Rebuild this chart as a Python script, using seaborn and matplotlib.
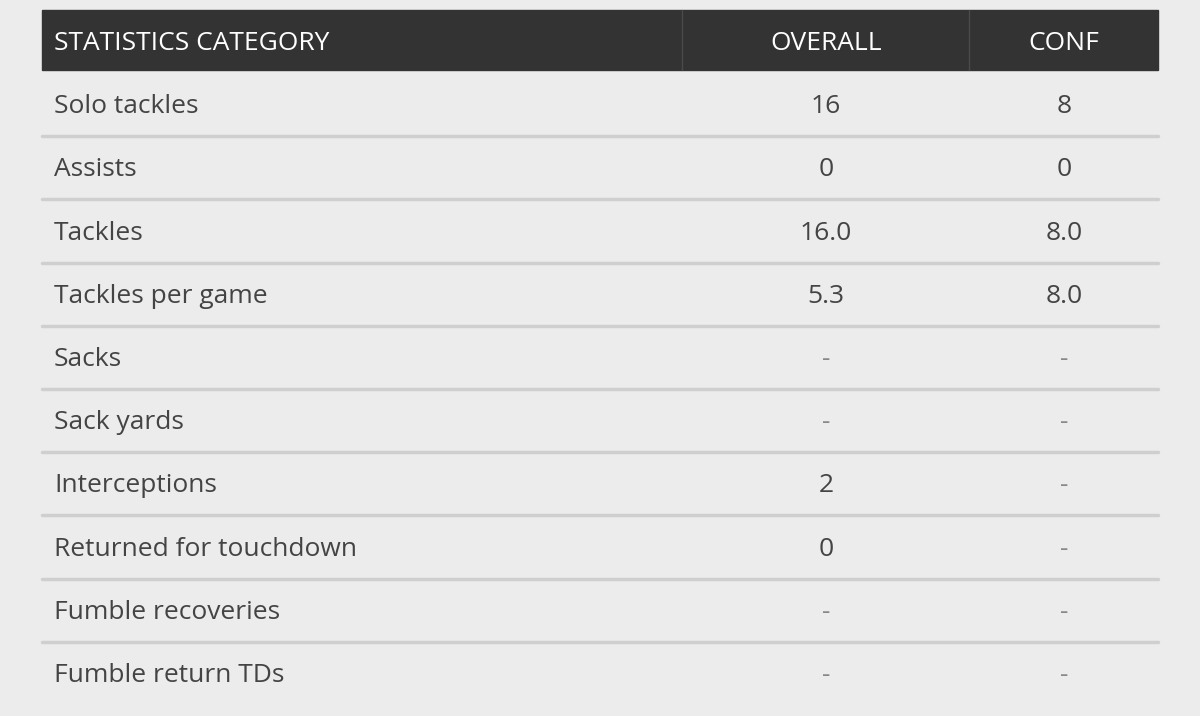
import matplotlib
matplotlib.use("Agg")
import matplotlib.pyplot as plt
import seaborn as sns

# table data
headers = ["STATISTICS CATEGORY", "OVERALL", "CONF"]
categories = ["Solo tackles", "Assists", "Tackles", "Tackles per game", "Sacks",
              "Sack yards", "Interceptions", "Returned for touchdown",
              "Fumble recoveries", "Fumble return TDs"]
overall = ["16", "0", "16.0", "5.3", "-", "-", "2", "0", "-", "-"]
conf = ["8", "0", "8.0", "8.0", "-", "-", "-", "-", "-", "-"]

sns.set_style("white")
plt.rcParams['font.family'] = ['Open Sans', 'DejaVu Sans']

fig = plt.figure(figsize=(12, 7.16), dpi=100)
fig.patch.set_facecolor("#ececec")
ax = fig.add_axes([0, 0, 1, 1])
ax.set_xlim(0, 1200)
ax.set_ylim(716, 0)
ax.axis("off")

# header bar
ax.add_patch(plt.Rectangle((42, 10), 1116, 60, color="#333333", zorder=1))
for xd in [682, 969]:
    ax.plot([xd, xd], [10, 70], color="#4a4a4a", lw=1, zorder=2)
hy = 43
ax.text(54, hy, headers[0], color="white", fontsize=19, va="center", ha="left")
ax.text(826, hy, headers[1], color="white", fontsize=19, va="center", ha="center")
ax.text(1064, hy, headers[2], color="white", fontsize=19, va="center", ha="center")

row_h = 63.2
top = 73
for i, (c, o, f) in enumerate(zip(categories, overall, conf)):
    yc = top + row_h * i + row_h / 2 + 2
    col = "#444444"
    ax.text(54, yc, c, color=col, fontsize=19, va="center", ha="left")
    ax.text(826, yc, o, color=col if o != "-" else "#888888", fontsize=19, va="center", ha="center")
    ax.text(1064, yc, f, color=col if f != "-" else "#888888", fontsize=19, va="center", ha="center")
    if i < len(categories) - 1:
        ys = top + row_h * (i + 1)
        ax.plot([42, 1158], [ys, ys], color="#cfcfcf", lw=2.5, zorder=1)

fig.savefig("out.png", dpi=100, facecolor=fig.get_facecolor())
